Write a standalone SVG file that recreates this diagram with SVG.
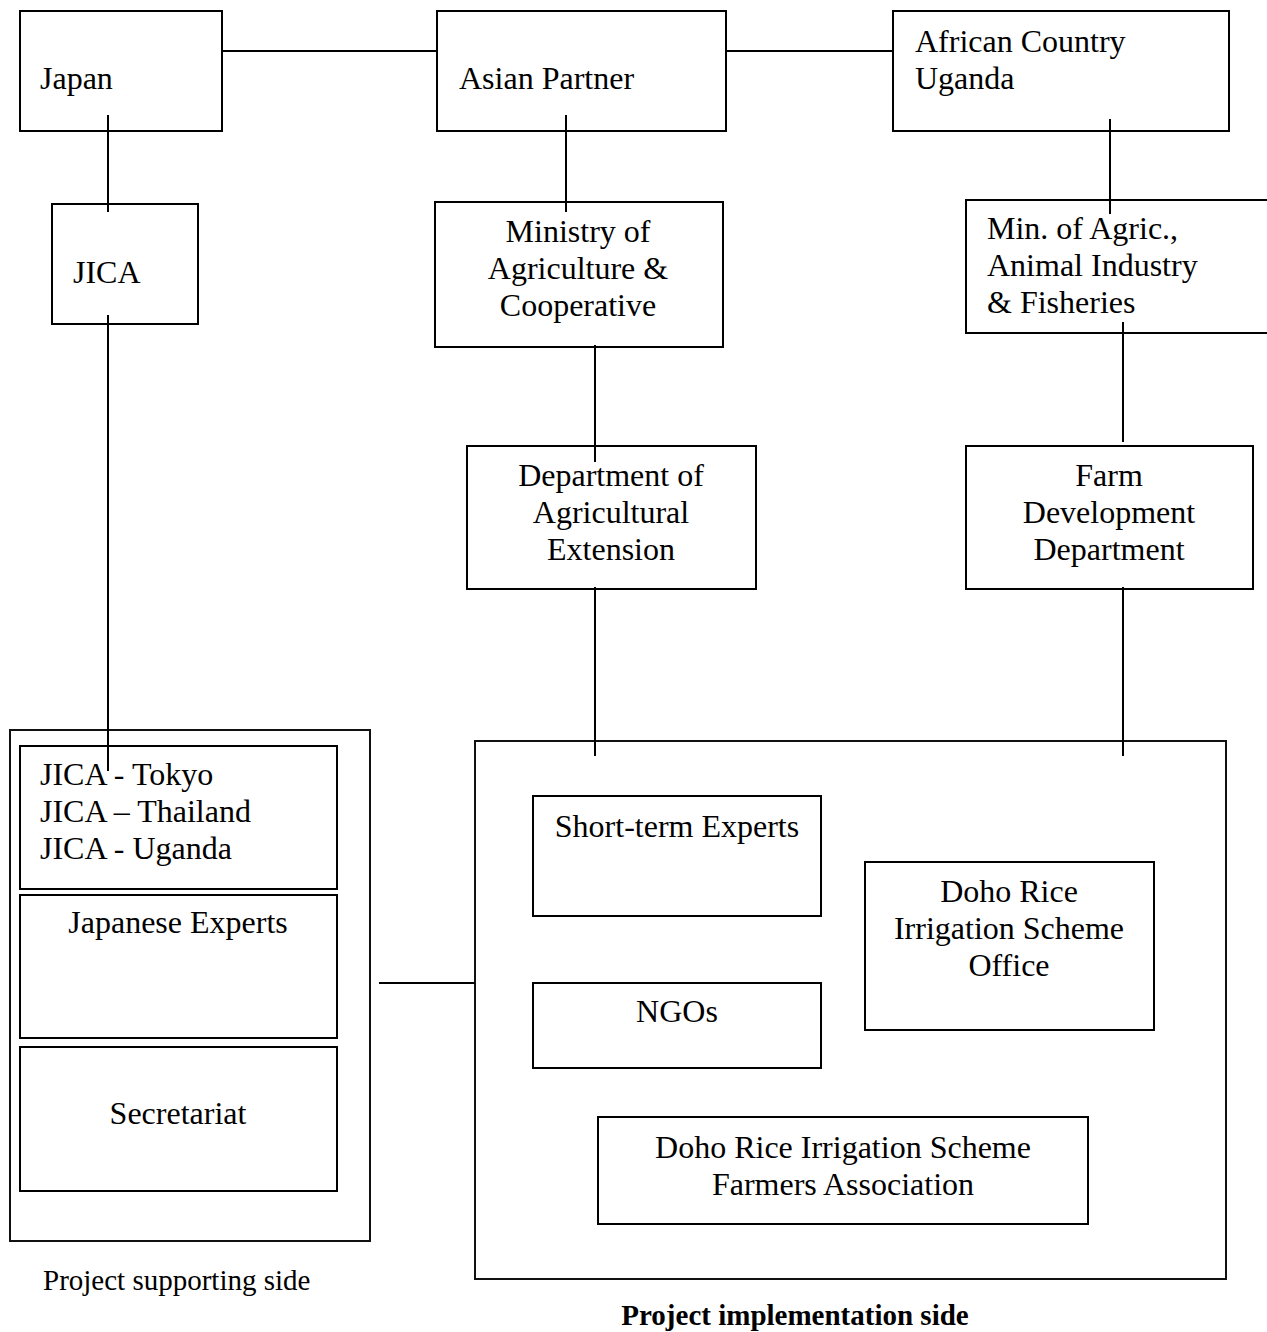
<svg xmlns="http://www.w3.org/2000/svg" width="1267" height="1332" viewBox="0 0 1267 1332">
<style>
.b{fill:none;stroke:#000;stroke-width:2}
.o{fill:none;stroke:#111;stroke-width:2}
.c{stroke:#000;stroke-width:2;fill:none}
text{font-family:"Liberation Serif","Times New Roman",serif;font-size:32px;fill:#000}
.m{text-anchor:middle}
.lab{font-size:29px}
.bold{font-weight:bold}
</style>
<rect width="1267" height="1332" fill="#fff"/>
<g id="support-side"><rect class="o" x="10" y="730" width="360" height="511"/></g>
<g id="impl-side"><rect class="o" x="475" y="741" width="751" height="538"/></g>
<g id="japan"><rect class="b" x="20" y="11" width="202" height="120"/><text x="40" y="89">Japan</text></g>
<g id="asian-partner"><rect class="b" x="437" y="11" width="289" height="120"/><text x="459" y="89">Asian Partner</text></g>
<g id="african-country"><rect class="b" x="893" y="11" width="336" height="120"/><text x="915" y="52">African Country</text><text x="915" y="89">Uganda</text></g>
<g id="jica"><rect class="b" x="52" y="204" width="146" height="120"/><text x="73" y="283">JICA</text></g>
<g id="ministry-coop"><rect class="b" x="435" y="202" width="288" height="145"/><text class="m" x="578" y="242">Ministry of</text><text class="m" x="578" y="279">Agriculture &amp;</text><text class="m" x="578" y="316">Cooperative</text></g>
<g id="maaif"><rect class="b" x="966" y="200" width="310" height="133"/><text x="987" y="239">Min. of Agric.,</text><text x="987" y="276">Animal Industry</text><text x="987" y="313">&amp; Fisheries</text></g>
<g id="dept-ext"><rect class="b" x="467" y="446" width="289" height="143"/><text class="m" x="611" y="486">Department of</text><text class="m" x="611" y="523">Agricultural</text><text class="m" x="611" y="560">Extension</text></g>
<g id="farm-dev"><rect class="b" x="966" y="446" width="287" height="143"/><text class="m" x="1109" y="486">Farm</text><text class="m" x="1109" y="523">Development</text><text class="m" x="1109" y="560">Department</text></g>
<g id="jica-offices"><rect class="b" x="20" y="746" width="317" height="143"/><text x="40" y="785">JICA - Tokyo</text><text x="40" y="822">JICA – Thailand</text><text x="40" y="859">JICA - Uganda</text></g>
<g id="japanese-experts"><rect class="b" x="20" y="895" width="317" height="143"/><text class="m" x="178" y="933">Japanese Experts</text></g>
<g id="secretariat"><rect class="b" x="20" y="1047" width="317" height="144"/><text class="m" x="178" y="1124">Secretariat</text></g>
<g id="short-term"><rect class="b" x="533" y="796" width="288" height="120"/><text class="m" x="677" y="837">Short-term Experts</text></g>
<g id="ngos"><rect class="b" x="533" y="983" width="288" height="85"/><text class="m" x="677" y="1022">NGOs</text></g>
<g id="doho-office"><rect class="b" x="865" y="862" width="289" height="168"/><text class="m" x="1009" y="902">Doho Rice</text><text class="m" x="1009" y="939">Irrigation Scheme</text><text class="m" x="1009" y="976">Office</text></g>
<g id="farmers-assoc"><rect class="b" x="598" y="1117" width="490" height="107"/><text class="m" x="843" y="1158">Doho Rice Irrigation Scheme</text><text class="m" x="843" y="1195">Farmers Association</text></g>
<g id="connectors">
<line class="c" x1="222" y1="51" x2="437" y2="51"/>
<line class="c" x1="726" y1="51" x2="893" y2="51"/>
<line class="c" x1="108" y1="115" x2="108" y2="212"/>
<line class="c" x1="108" y1="315" x2="108" y2="771"/>
<line class="c" x1="566" y1="115" x2="566" y2="212"/>
<line class="c" x1="595" y1="345" x2="595" y2="462"/>
<line class="c" x1="595" y1="587" x2="595" y2="756"/>
<line class="c" x1="1110" y1="119" x2="1110" y2="214"/>
<line class="c" x1="1123" y1="322" x2="1123" y2="442"/>
<line class="c" x1="1123" y1="587" x2="1123" y2="756"/>
<line class="c" x1="379" y1="983" x2="475" y2="983"/>
</g>
<text class="lab" x="43" y="1290">Project supporting side</text>
<text class="lab bold m" x="795" y="1325">Project implementation side</text>
</svg>
